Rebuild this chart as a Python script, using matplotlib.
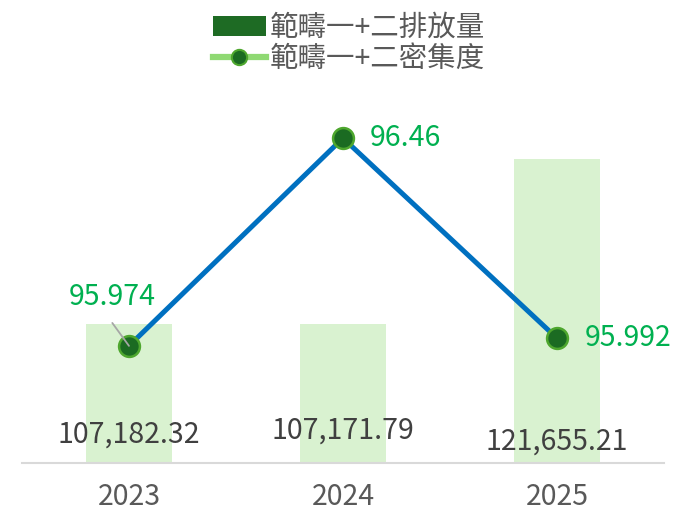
import matplotlib.pyplot as plt
from matplotlib.lines import Line2D
from matplotlib.patches import Patch

plt.rcParams['font.family'] = ['Noto Sans CJK TC', 'DejaVu Sans']

# data
years = ['2023', '2024', '2025']
emissions = [107182.32, 107171.79, 121655.21]
intensity = [95.974, 96.46, 95.992]
bar_name = '範疇一+二排放量'
line_name = '範疇一+二密集度'

fig = plt.figure(figsize=(6.74, 5.14), dpi=100)
ax = fig.add_axes([0.0326, 0.0992, 0.9525, 0.6654])
x = list(range(len(years)))

ax.bar(x, [v - 95000 for v in emissions], bottom=95000, width=0.4, color='#D9F2D0', zorder=1)
ax.set_ylim(95000, 125000)
ax.set_xlim(-0.5, 2.5)
ax.set_xticks(x)
ax.set_xticklabels(years, fontsize=20.5, color='#595959')
ax.tick_params(axis='x', length=0, pad=14)
ax.set_yticks([])
for s in ['top', 'right', 'left']:
    ax.spines[s].set_visible(False)
ax.spines['bottom'].set_color('#D9D9D9')
ax.spines['bottom'].set_linewidth(1.5)

# bar value labels near the bottom of bars
label_y = [0.083, 0.095, 0.064]
for i, v in enumerate(emissions):
    ax.text(i, label_y[i], f'{v:,.2f}', transform=ax.get_xaxis_transform(),
            ha='center', va='center', fontsize=20.5, color='#404040', zorder=3)

ax2 = ax.twinx()
ax2.set_ylim(95.7, 96.5)
ax2.set_yticks([])
for s in ax2.spines.values():
    s.set_visible(False)
ax2.plot(x, intensity, color='#0070C0', linewidth=3.6, zorder=2)
ax2.plot(x, intensity, linestyle='none', marker='o', markersize=15,
         markerfacecolor='#1B6B22', markeredgecolor='#4EA72E', markeredgewidth=1.8, zorder=4)

green = '#00B050'
# leader line for the first label, drawn over the marker
ax2.annotate('', xy=(x[0], intensity[0]), xytext=(-12, 16.5), textcoords='offset points',
             zorder=5, arrowprops=dict(arrowstyle='-', color='#A6A6A6', lw=1.3,
                                       shrinkA=0, shrinkB=0))
ax2.annotate(f'{intensity[0]:.3f}', xy=(x[0], intensity[0]), xytext=(-12, 35),
             textcoords='offset points', ha='center', va='center', fontsize=20.5, color=green)
ax2.annotate(f'{intensity[1]:.2f}', xy=(x[1], intensity[1]), xytext=(19, 0),
             textcoords='offset points', ha='left', va='center', fontsize=20.5, color=green)
ax2.annotate(f'{intensity[2]:.3f}', xy=(x[2], intensity[2]), xytext=(20, 0),
             textcoords='offset points', ha='left', va='center', fontsize=20.5, color=green)

handles = [Patch(facecolor='#1E6B24', edgecolor='none'),
           Line2D([0], [0], color='#8FD973', linewidth=4.5, marker='o', markersize=11,
                  markerfacecolor='#1B6B22', markeredgecolor='#4EA72E', markeredgewidth=1.5)]
fig.legend(handles, [bar_name, line_name], loc='upper center', bbox_to_anchor=(0.518, 1.008),
           frameon=False, fontsize=20.5, labelcolor='#595959', handlelength=1.85,
           handletextpad=0.15, labelspacing=0.05, borderaxespad=0.2)

fig.savefig('out.png', dpi=100)
